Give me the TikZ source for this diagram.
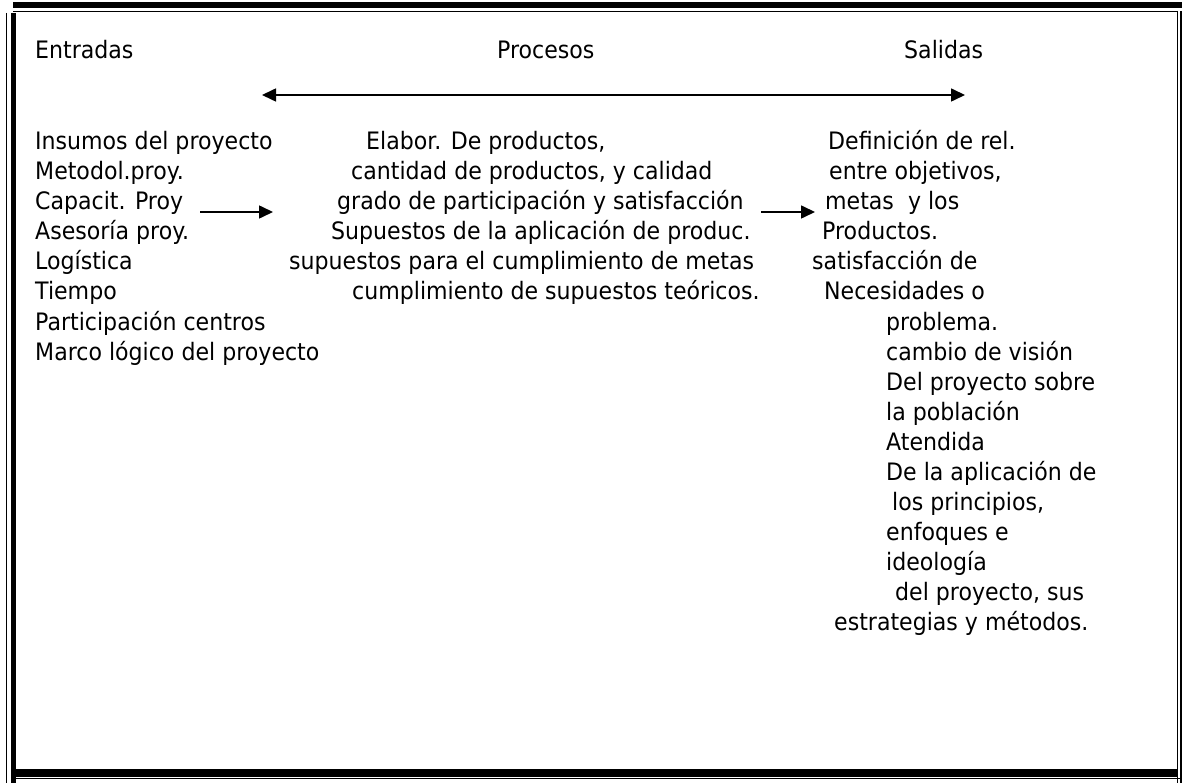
\documentclass[tikz,border=0pt]{standalone}
\usepackage{fontspec}
\setmainfont{DejaVu Sans}[FakeStretch=0.92]
\usetikzlibrary{arrows.meta}
\begin{document}
\begin{tikzpicture}[x=1pt,y=-1pt,
  txt/.style={anchor=base west, inner sep=0pt, font=\fontsize{24}{30}\selectfont},
  conn/.style={line width=1.6pt, -{Triangle[length=14pt,width=13pt]}},
  thin/.style={line width=1.3pt},
]
\useasboundingbox (0,0) rectangle (1182,783);
% frame
\fill (13,2) rectangle (1182,8.5);
\draw[thin] (13,11.5) -- (1177.5,11.5);
\draw[thin] (6.5,13) -- (6.5,783);
\fill (10.5,13) rectangle (16,783);
\draw[thin] (1177.5,11) -- (1177.5,783);
\draw[thin] (1181,11) -- (1181,783);
\fill (13,769) rectangle (1177.5,777);
\draw[thin] (15,778.7) -- (1182,778.7);
% headers
\node[txt] (hE) at (35,59) {Entradas};
\node[txt] (hP) at (497,59) {Procesos};
\node[txt] (hS) at (904,59) {Salidas};
\coordinate (tl) at (262,95);
\coordinate (tr) at (965,95);
\draw[line width=1.6pt, {Triangle[length=14pt,width=13pt]}-{Triangle[length=14pt,width=13pt]}] (tl) -- (tr);
% left column
\node[txt] (l0) at (35,150) {Insumos del proyecto};
\node[txt] (l1) at (35,180) {Metodol.proy.};
\node[txt] (l2) at (35,210) {Capacit. Proy};
\node[txt] (l3) at (35,240) {Asesoría proy.};
\node[txt] (l4) at (35,270) {Logística};
\node[txt] (l5) at (35,300) {Tiempo};
\node[txt] (l6) at (35,330) {Participación centros};
\node[txt] (l7) at (35,360) {Marco lógico del proyecto};
% middle column
\node[txt] (m0) at (366,150) {Elabor. De productos,};
\node[txt] (m1) at (351,180) {cantidad de productos, y calidad};
\node[txt] (m2) at (337,210) {grado de participación y satisfacción};
\node[txt] (m3) at (331,240) {Supuestos de la aplicación de produc.};
\node[txt] (m4) at (289,270) {supuestos para el cumplimiento de metas};
\node[txt] (m5) at (352,300) {cumplimiento de supuestos teóricos.};
% right column
\node[txt] (r0) at (828,150) {Definición de rel.};
\node[txt] (r1) at (829,180) {entre objetivos,};
\node[txt] (r2) at (825,210) {metas\ \ y los};
\node[txt] (r3) at (822,240) {Productos.};
\node[txt] (r4) at (812,270) {satisfacción de};
\node[txt] (r5) at (824,300) {Necesidades o};
\node[txt] (r6) at (886,330) {problema.};
\node[txt] (r7) at (886,360) {cambio de visión};
\node[txt] (r8) at (886,390) {Del proyecto sobre};
\node[txt] (r9) at (886,420) {la población};
\node[txt] (r10) at (886,450) {Atendida};
\node[txt] (r11) at (886,480) {De la aplicación de};
\node[txt] (r12) at (892,510) {los principios,};
\node[txt] (r13) at (886,540) {enfoques e};
\node[txt] (r14) at (886,570) {ideología};
\node[txt] (r15) at (895,600) {del proyecto, sus};
\node[txt] (r16) at (834,630) {estrategias y métodos.};
% connectors
\coordinate (a1s) at (200,212);
\coordinate (a1e) at (273,212);
\coordinate (a2s) at (761,212);
\coordinate (a2e) at (815,212);
\draw[conn] (a1s) -- (a1e);
\draw[conn] (a2s) -- (a2e);
\end{tikzpicture}
\end{document}
